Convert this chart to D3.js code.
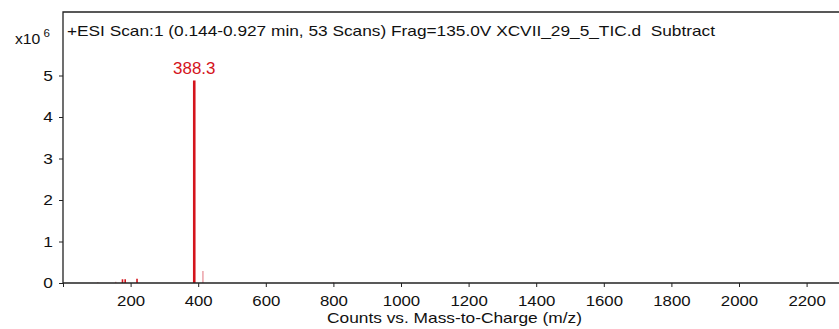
<!DOCTYPE html>
<html lang="en">
<head>
<meta charset="UTF-8">
<title>Mass spectrum</title>
<script src="https://cdn.jsdelivr.net/npm/d3@7"></script>
<style>
  html, body { margin: 0; padding: 0; background: #fff; }
  svg { display: block; font-family: "Liberation Sans", Arial, sans-serif; }
</style>
</head>
<body>
<div class="container"></div>
<script>
// peaks: m/z and intensity (x10^6 counts)
const peakMz = [103, 156, 176, 184, 219, 388.3, 414, 800];
const peakCounts = [0.02, 0.03, 0.09, 0.09, 0.1, 4.88, 0.29, 0.02];
const peakMain = [false, false, true, true, true, true, false, false];
const xTicks = [200, 400, 600, 800, 1000, 1200, 1400, 1600, 1800, 2000, 2200];
const yTicks = [0, 1, 2, 3, 4, 5];
const labelledPeak = 388.3;
const title = "+ESI Scan:1 (0.144-0.927 min, 53 Scans) Frag=135.0V XCVII_29_5_TIC.d  Subtract";
const xTitle = "Counts vs. Mass-to-Charge (m/z)";

const width = 839, height = 329;
const marginLeft = 63, marginTop = 12, marginBottom = 46;
const stretch = "scale(1.12,1)"; // text in the source image is a bit wide

const x = d3.scaleLinear()
    .domain([0, 2300])
    .range([marginLeft, marginLeft + 2300 * 0.338]);

const y = d3.scaleLinear()
    .domain([0, 5])
    .range([height - marginBottom, height - marginBottom - 5 * 41.5]);

const svg = d3.create("svg")
    .attr("width", width)
    .attr("height", height)
    .attr("viewBox", [0, 0, width, height]);

// frame (top + left)
svg.append("path")
    .attr("d", `M${marginLeft},${height - marginBottom}V${marginTop}H${width + 5}`)
    .attr("fill", "none")
    .attr("stroke", "#222")
    .attr("stroke-width", 1.3);

// peaks
const peaks = peakMz.map((m, i) => ({ mz: m, v: peakCounts[i], main: peakMain[i] }));
svg.append("g")
    .selectAll("line")
    .data(peaks)
    .join("line")
      .attr("x1", d => x(d.mz))
      .attr("x2", d => x(d.mz))
      .attr("y1", y(0))
      .attr("y2", d => y(d.v))
      .attr("stroke", d => d.main ? "#d4141c" : "#e8939a")
      .attr("stroke-width", d => d.mz === labelledPeak ? 2.6 : (d.main ? 1.6 : 1.3));

// peak label
svg.append("text")
    .attr("transform", `translate(${x(labelledPeak)},${y(4.88) - 6}) scale(1.06,1)`)
    .attr("text-anchor", "middle")
    .attr("fill", "#d4141c")
    .attr("font-size", 16)
    .text(d3.format(".1f")(labelledPeak));

// x axis
svg.append("g")
    .attr("transform", `translate(0,${y(0)})`)
    .call(d3.axisBottom(x).tickValues([0, ...xTicks]).tickSize(4).tickPadding(8)
        .tickFormat(d => d === 0 ? "" : d))
    .call(g => g.select(".domain").attr("d", `M${marginLeft},0H${width + 5}`)
        .attr("stroke", "#222").attr("stroke-width", 1.5))
    .call(g => g.selectAll(".tick line").attr("stroke", "#222"))
    .call(g => g.selectAll("text").attr("font-size", 15).attr("fill", "#111")
        .attr("transform", stretch)
        .attr("font-family", "Liberation Sans, Arial, sans-serif"));

// y axis
svg.append("g")
    .attr("transform", `translate(${marginLeft},0)`)
    .call(d3.axisLeft(y).tickValues(yTicks).tickSize(4).tickPadding(5).tickFormat(d3.format("d")))
    .call(g => g.select(".domain").remove())
    .call(g => g.selectAll(".tick line").attr("stroke", "#222"))
    .call(g => g.selectAll("text").attr("font-size", 15.5).attr("fill", "#111")
        .attr("transform", stretch)
        .attr("font-family", "Liberation Sans, Arial, sans-serif"));

// scale label x10^6
const sc = svg.append("text")
    .attr("transform", "translate(15,43.5) scale(1.05,1)")
    .attr("font-size", 15)
    .attr("fill", "#111");
sc.append("tspan").text("x10");
sc.append("tspan").attr("dx", 3).attr("dy", -7).attr("font-size", 11).text("6");

// title
svg.append("text")
    .attr("x", 67)
    .attr("y", 35.5)
    .attr("font-size", 15)
    .attr("fill", "#111")
    .attr("textLength", 648)
    .attr("lengthAdjust", "spacingAndGlyphs")
    .attr("xml:space", "preserve")
    .style("white-space", "pre")
    .text(title);

// x axis title
svg.append("text")
    .attr("x", 327)
    .attr("y", 323)
    .attr("font-size", 14.5)
    .attr("fill", "#111")
    .attr("textLength", 255)
    .attr("lengthAdjust", "spacingAndGlyphs")
    .text(xTitle);

document.querySelector(".container").appendChild(svg.node());
</script>
</body>
</html>
